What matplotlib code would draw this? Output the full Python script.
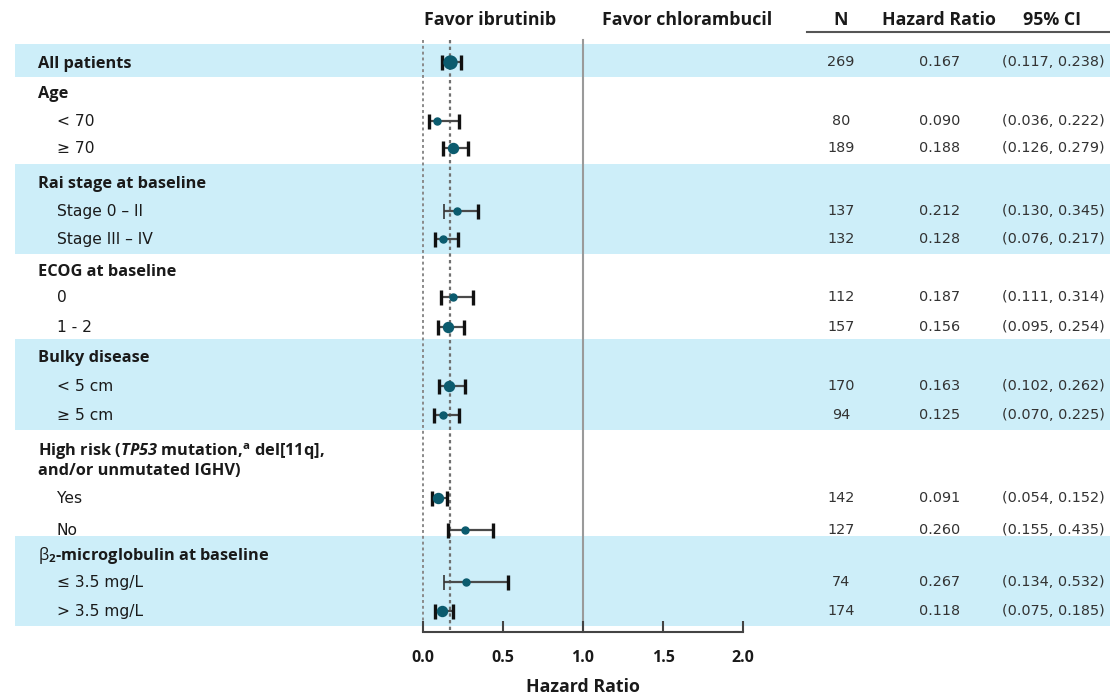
import matplotlib
matplotlib.use("Agg")
import matplotlib.pyplot as plt
from matplotlib.lines import Line2D

REG = "DejaVu Sans"
BOLD = "Open Sans"
plt.rcParams['font.family'] = [REG]
plt.rcParams['mathtext.fontset'] = 'custom'
plt.rcParams['mathtext.rm'] = BOLD
plt.rcParams['mathtext.bf'] = BOLD + ':bold'
plt.rcParams['mathtext.it'] = BOLD + ':italic'
plt.rcParams['mathtext.bfit'] = BOLD + ':italic:bold'

# ---------------- data ----------------
row_labels = [
    "All patients",
    "Age", "< 70", "≥ 70",
    "Rai stage at baseline", "Stage 0 – II", "Stage III – IV",
    "ECOG at baseline", "0", "1 - 2",
    "Bulky disease", "< 5 cm", "≥ 5 cm",
    "High risk ($\\mathbfit{TP53}$ mutation,$^{\\mathbf{a}}$ del[11q],\nand/or unmutated IGHV)", "Yes", "No",
    "$\\mathrm{\\beta}_{\\mathbf{2}}$-microglobulin at baseline", "≤ 3.5 mg/L", "> 3.5 mg/L",
]
row_kind = ["main", "head", "sub", "sub", "head", "sub", "sub", "head", "sub", "sub",
            "head", "sub", "sub", "head", "sub", "sub", "head", "sub", "sub"]

n_patients = [269, 80, 189, 137, 132, 112, 157, 170, 94, 142, 127, 74, 174]
hazard_ratio = [0.167, 0.090, 0.188, 0.212, 0.128, 0.187, 0.156, 0.163, 0.125, 0.091, 0.260, 0.267, 0.118]
ci_low = [0.117, 0.036, 0.126, 0.130, 0.076, 0.111, 0.095, 0.102, 0.070, 0.054, 0.155, 0.134, 0.075]
ci_high = [0.238, 0.222, 0.279, 0.345, 0.217, 0.314, 0.254, 0.262, 0.225, 0.152, 0.435, 0.532, 0.185]
x_ticks = [0.0, 0.5, 1.0, 1.5, 2.0]
x_tick_labels = ["0.0", "0.5", "1.0", "1.5", "2.0"]
header_cols = ["N", "Hazard Ratio", "95% CI"]
favor_labels = ["Favor ibrutinib", "Favor chlorambucil"]

# ---------------- layout / style ----------------
W, H = 1110, 696
row_y = [62, 93, 121, 148, 182, 211, 239, 270, 297, 327, 357, 386, 415, 459, 498, 530, 554, 582, 611]
band_sections = [(0, 0), (4, 6), (10, 12), (16, 18)]
marker_px = [13, 7, 10, 7, 7, 7, 10, 10, 7, 10, 7, 7, 10]
left_cap_lw = [2.4, 2.4, 2.4, 1.2, 2.4, 2.4, 2.4, 2.4, 2.4, 2.4, 2.4, 1.2, 2.4]
BAND = "#cdeef9"
TEAL = "#0b5b6e"
TXT = "#1a1a1a"
NUM = "#333333"
FS_HEAD = 12.8
FS_BOLD = 11.8
FS_SUB = 11.2
FS_NUM = 10.4
FS_TICK = 11.5

fig = plt.figure(figsize=(W / 100, H / 100), dpi=100)
ax = fig.add_axes([0, 0, 1, 1])
px_per_unit = 160.0
x0_px = 423.0
ax.set_xlim(-x0_px / px_per_unit, (W - x0_px) / px_per_unit)
ax.set_ylim(H, 0)

def fx(px):
    return px / W

def fy(py):
    return 1 - py / H

# bands
for a, b in band_sections:
    ax.axhspan(row_y[a] - 18, row_y[b] + 15, xmin=15 / W, xmax=1, color=BAND, lw=0, zorder=0)

# reference lines
ytop, ybot = 40, 632
ax.plot([1.0, 1.0], [ytop, ybot], color="#9a9a9a", lw=1.5, zorder=1)
ax.plot([0.0, 0.0], [ytop, ybot], color="#8a8a8a", lw=1.4, ls=(0, (1.5, 1.5)), zorder=1)
ax.plot([hazard_ratio[0]] * 2, [ytop, ybot], color="#707070", lw=1.6, ls=(0, (1.5, 1.5)), zorder=1)

# rows
data_rows = [i for i, k in enumerate(row_kind) if k != "head"]
for j, i in enumerate(data_rows):
    y = row_y[i]
    hr, lo, hi = hazard_ratio[j], ci_low[j], ci_high[j]
    ax.plot([lo, hi], [y, y], color="#4a4a4a", lw=1.6, zorder=2, solid_capstyle="butt")
    for xc, lw in ((lo, left_cap_lw[j]), (hi, 2.4)):
        col = "#111111" if lw > 2 else "#333333"
        ax.plot([xc, xc], [y - 7.5, y + 7.5], color=col, lw=lw, zorder=3, solid_capstyle="butt")
    ax.plot([hr], [y], marker="o", ms=marker_px[j] * 0.72, color=TEAL, mec=TEAL, zorder=4)
    fig.text(fx(841), fy(y), f"{n_patients[j]}", ha="center", va="center", fontsize=FS_NUM, color=NUM)
    fig.text(fx(940), fy(y), f"{hr:.3f}", ha="center", va="center", fontsize=FS_NUM, color=NUM)
    fig.text(fx(1053), fy(y), f"({lo:.3f}, {hi:.3f})", ha="center", va="center", fontsize=FS_NUM, color=NUM)

for i, lab in enumerate(row_labels):
    kind = row_kind[i]
    y = row_y[i]
    if kind == "sub":
        fig.text(fx(57), fy(y + 0.5), lab, ha="left", va="center", fontsize=FS_SUB, color=TXT)
    else:
        fig.text(fx(38), fy(y + 1.5), lab, ha="left", va="center", fontsize=FS_BOLD, family=BOLD,
                 fontweight="bold", color=TXT, linespacing=1.05)

# headers
fig.text(fx(490), fy(20), favor_labels[0], ha="center", va="center", fontsize=FS_HEAD,
         family=BOLD, fontweight="bold", color=TXT)
fig.text(fx(687), fy(20), favor_labels[1], ha="center", va="center", fontsize=FS_HEAD,
         family=BOLD, fontweight="bold", color=TXT)
for xc, lab in zip([841, 939, 1052], header_cols):
    fig.text(fx(xc), fy(20), lab, ha="center", va="center", fontsize=FS_HEAD,
             family=BOLD, fontweight="bold", color=TXT)
fig.add_artist(Line2D([fx(807), fx(1110)], [fy(32), fy(32)], color="#555555", lw=1.5))

# axis
for s in ["top", "left", "right"]:
    ax.spines[s].set_visible(False)
ax.spines["bottom"].set_position(("data", 632))
ax.spines["bottom"].set_bounds(0, 2)
ax.spines["bottom"].set_color("#444444")
ax.spines["bottom"].set_linewidth(1.5)
ax.set_yticks([])
ax.set_xticks(x_ticks)
ax.set_xticklabels(x_tick_labels, fontweight="bold", fontsize=FS_TICK, family=BOLD, color=TXT)
ax.tick_params(axis="x", direction="in", length=8, width=1.5, color="#444444", pad=13)
ax.text(1.0, 687, "Hazard Ratio", ha="center", va="center", fontsize=FS_HEAD,
        family=BOLD, fontweight="bold", color=TXT)

fig.savefig("out.png", dpi=100)
